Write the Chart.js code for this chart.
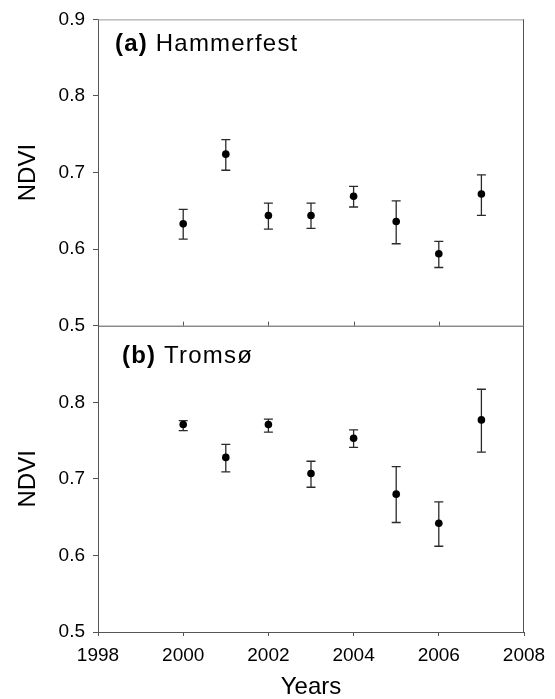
<!DOCTYPE html>
<html>
<head>
<meta charset="utf-8">
<script src="https://cdn.jsdelivr.net/npm/chart.js@4/dist/chart.umd.min.js"></script>
<style>
  html, body { margin: 0; background: #fff; }
  #wrap { width: 555px; height: 699px; position: relative; }
</style>
</head>
<body>
<div id="wrap"><canvas id="ndviChart"></canvas></div>
<script>
// data
const years = [2000, 2001, 2002, 2003, 2004, 2005, 2006, 2007];

const hamMean = [0.633, 0.724, 0.644, 0.644, 0.669, 0.636, 0.594, 0.672];
const hamLow  = [0.613, 0.703, 0.626, 0.627, 0.655, 0.607, 0.576, 0.644];
const hamHigh = [0.652, 0.743, 0.660, 0.660, 0.682, 0.663, 0.610, 0.697];

const troMean = [0.771, 0.728, 0.771, 0.707, 0.753, 0.680, 0.642, 0.777];
const troLow  = [0.763, 0.709, 0.761, 0.689, 0.741, 0.643, 0.612, 0.735];
const troHigh = [0.776, 0.745, 0.778, 0.723, 0.764, 0.716, 0.670, 0.817];

const xTicks = [1998, 2000, 2002, 2004, 2006, 2008];
const yTicks = [0.5, 0.6, 0.7, 0.8, 0.9];

const FONT = "'Liberation Sans', Arial, sans-serif";
const AXIS = '#555';

function toPoints(means) {
    return years.map((y, i) => ({ x: y, y: means[i] }));
}

// error bars, drawn through each dataset's own y scale
const errorBars = {
    id: 'errorBars',
    beforeDatasetsDraw(chart) {
        const ctx = chart.ctx;
        ctx.save();
        ctx.strokeStyle = '#2a2a2a';
        ctx.lineWidth = 1.3;
        chart.data.datasets.forEach((ds, i) => {
            const meta = chart.getDatasetMeta(i);
            const scale = chart.scales[meta.yAxisID];
            meta.data.forEach((pt, j) => {
                const yHi = scale.getPixelForValue(ds.errHigh[j]);
                const yLo = scale.getPixelForValue(ds.errLow[j]);
                ctx.beginPath();
                ctx.moveTo(pt.x, yHi); ctx.lineTo(pt.x, yLo);
                ctx.moveTo(pt.x - 4.5, yHi); ctx.lineTo(pt.x + 4.5, yHi);
                ctx.moveTo(pt.x - 4.5, yLo); ctx.lineTo(pt.x + 4.5, yLo);
                ctx.stroke();
            });
        });
        ctx.restore();
    }
};

// frame, shared middle line with its ticks, panel labels
const panelFrame = {
    id: 'panelFrame',
    afterDraw(chart) {
        const ctx = chart.ctx;
        const a = chart.chartArea;
        const mid = chart.scales.yTop.bottom;
        const xs = chart.scales.x;
        ctx.save();
        ctx.lineWidth = 1;
        ctx.strokeStyle = '#999';
        ctx.beginPath();
        ctx.moveTo(a.left, a.top + 0.5); ctx.lineTo(a.right, a.top + 0.5);
        ctx.stroke();
        ctx.strokeStyle = AXIS;
        ctx.beginPath();
        ctx.moveTo(a.right - 0.5, a.top); ctx.lineTo(a.right - 0.5, a.bottom);
        ctx.moveTo(a.left, mid + 0.5); ctx.lineTo(a.right, mid + 0.5);
        xTicks.slice(1, -1).forEach(v => {
            const px = Math.round(xs.getPixelForValue(v)) + 0.5;
            ctx.moveTo(px, mid); ctx.lineTo(px, mid - 4);
        });
        ctx.stroke();

        ctx.fillStyle = '#000';
        ctx.textBaseline = 'alphabetic';
        ctx.letterSpacing = '1.2px';
        function label(tag, name, x, y) {
            ctx.font = 'bold 24px ' + FONT;
            ctx.fillText(tag, x, y);
            const w = ctx.measureText(tag + ' ').width;
            ctx.font = '24px ' + FONT;
            ctx.fillText(name, x + w, y);
        }
        label('(a)', 'Hammerfest', a.left + 17, a.top + 32);
        label('(b)', 'Tromsø', a.left + 24, mid + 37);
        ctx.restore();
    }
};

function yScale(weight, hideTop) {
    return {
        type: 'linear',
        position: 'left',
        stack: 'ndvi',
        stackWeight: 1,
        weight: weight,
        min: 0.5,
        max: 0.9,
        afterBuildTicks: s => { s.ticks = yTicks.map(v => ({ value: v })); },
        afterFit: s => { s.width = 98; },
        ticks: {
            color: '#000',
            font: { family: FONT, size: 19 },
            padding: 8,
            callback: v => (hideTop && v > 0.85) ? '' : v.toFixed(1)
        },
        grid: { drawOnChartArea: false, tickLength: 5, color: AXIS },
        border: { color: AXIS, width: 1 },
        title: {
            display: true,
            text: 'NDVI',
            color: '#000',
            font: { family: FONT, size: 24 },
            padding: { top: 14, bottom: 0 }
        }
    };
}

new Chart(document.getElementById('ndviChart'), {
    type: 'scatter',
    data: {
        datasets: [
            {
                label: 'Hammerfest',
                data: toPoints(hamMean),
                errLow: hamLow,
                errHigh: hamHigh,
                yAxisID: 'yTop',
                pointRadius: 3.8,
                pointBackgroundColor: '#000',
                pointBorderColor: '#000',
                pointBorderWidth: 0
            },
            {
                label: 'Tromsø',
                data: toPoints(troMean),
                errLow: troLow,
                errHigh: troHigh,
                yAxisID: 'yBot',
                pointRadius: 3.8,
                pointBackgroundColor: '#000',
                pointBorderColor: '#000',
                pointBorderWidth: 0
            }
        ]
    },
    options: {
        responsive: true,
        maintainAspectRatio: false,
        animation: false,
        layout: { padding: { top: 17, right: 31, left: 0, bottom: 0 } },
        plugins: { legend: { display: false }, tooltip: { enabled: false } },
        scales: {
            x: {
                type: 'linear',
                position: 'bottom',
                min: 1998,
                max: 2008,
                afterBuildTicks: s => { s.ticks = xTicks.map(v => ({ value: v })); },
                afterFit: s => { s.height = 67; },
                ticks: {
                    color: '#000',
                    font: { family: FONT, size: 19 },
                    padding: 8,
                    maxRotation: 0,
                    callback: v => String(v)
                },
                grid: { drawOnChartArea: false, tickLength: 4, color: AXIS },
                border: { color: AXIS, width: 1 },
                title: {
                    display: true,
                    text: 'Years',
                    color: '#000',
                    font: { family: FONT, size: 24 },
                    padding: { top: 0, bottom: -3 }
                }
            },
            yBot: yScale(0, true),
            yTop: yScale(1, false)
        }
    },
    plugins: [errorBars, panelFrame]
});
</script>
</body>
</html>
